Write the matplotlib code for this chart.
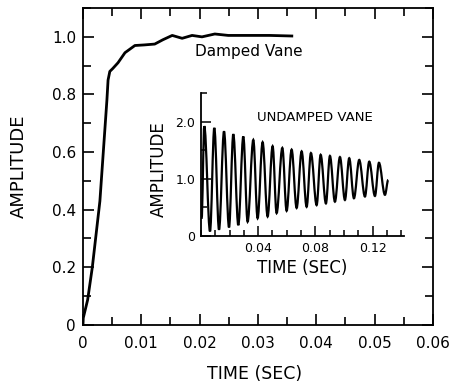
import matplotlib
matplotlib.use('Agg')
import matplotlib.pyplot as plt
from matplotlib.ticker import MultipleLocator
from matplotlib.path import Path
from matplotlib.patches import PathPatch

# damped vane response (main plot)
damped_t = [0.0, 0.00005, 0.0008, 0.0016, 0.0029, 0.0041, 0.0043, 0.0046, 0.0051,
            0.0060, 0.0072, 0.0089, 0.0105, 0.0123, 0.0137, 0.0153, 0.0170,
            0.0187, 0.0204, 0.0226, 0.0249, 0.0280, 0.0320, 0.0358]
damped_amp = [0.0, 0.024, 0.087, 0.20, 0.43, 0.78, 0.85, 0.88, 0.89,
              0.91, 0.945, 0.97, 0.972, 0.975, 0.99, 1.005, 0.995,
              1.005, 1.0, 1.01, 1.005, 1.005, 1.005, 1.003]

# undamped vane response (inset) - peaks and troughs
undamped_t = [0.0004, 0.0023, 0.0063, 0.0093, 0.0126, 0.0161, 0.0196, 0.0226,
              0.0261, 0.0296, 0.0326, 0.0366, 0.0396, 0.0431, 0.0466, 0.0501,
              0.0529, 0.0569, 0.0599, 0.0634, 0.0669, 0.0704, 0.0739, 0.0769,
              0.0809, 0.0837, 0.0874, 0.0902, 0.0937, 0.0972, 0.1007, 0.1037,
              0.1070, 0.1107, 0.1147, 0.1177, 0.1217, 0.1245, 0.1287, 0.1310]
undamped_amp = [0.30, 1.92, 0.08, 1.89, 0.11, 1.83, 0.15, 1.78,
                0.19, 1.74, 0.25, 1.68, 0.31, 1.64, 0.34, 1.57,
                0.40, 1.54, 0.44, 1.51, 0.49, 1.48, 0.51, 1.45,
                0.54, 1.42, 0.57, 1.40, 0.60, 1.38, 0.63, 1.36,
                0.66, 1.33, 0.69, 1.30, 0.70, 1.28, 0.72, 0.98]

main_xticks = [0, 0.01, 0.02, 0.03, 0.04, 0.05, 0.06]
main_xlabels = ['0', '0.01', '0.02', '0.03', '0.04', '0.05', '0.06']
main_yticks = [0, 0.2, 0.4, 0.6, 0.8, 1.0]
main_ylabels = ['0', '0.2', '0.4', '0.6', '0.8', '1.0']
inset_xticks = [0.04, 0.08, 0.12]
inset_xlabels = ['0.04', '0.08', '0.12']
inset_yticks = [0, 1.0, 2.0]
inset_ylabels = ['0', '1.0', '2.0']

plt.rcParams['font.family'] = ['DejaVu Sans']

fig = plt.figure(figsize=(4.51, 3.84), dpi=100)
ax = fig.add_axes([0.184, 0.154, 0.776, 0.825])

ax.plot(damped_t, damped_amp, color='black', lw=2.0, solid_joinstyle='round')
ax.set_xlim(0, 0.06)
ax.set_ylim(0, 1.1)
ax.set_xticks(main_xticks)
ax.set_xticklabels(main_xlabels)
ax.set_yticks(main_yticks)
ax.set_yticklabels(main_ylabels)
ax.xaxis.set_minor_locator(MultipleLocator(0.005))
ax.yaxis.set_minor_locator(MultipleLocator(0.1))
ax.tick_params(which='both', direction='in', top=True, right=True, width=1.2,
               labelsize=11)
ax.tick_params(which='major', length=8)
ax.tick_params(which='minor', length=5.5)
ax.tick_params(axis='x', pad=8)
ax.tick_params(axis='y', pad=5)
for s in ax.spines.values():
    s.set_linewidth(1.3)
ax.set_xlabel('TIME (SEC)', fontsize=12.5)
ax.set_ylabel('AMPLITUDE', fontsize=13)
ax.xaxis.set_label_coords(0.49, -0.128)
ax.yaxis.set_label_coords(-0.158, 0.5)
ax.text(0.0285, 0.95, 'Damped Vane', fontsize=11, ha='center', va='center')

# inset
ins = fig.add_axes([0.4457, 0.3854, 0.450, 0.3724])
# smooth curve through the peaks/troughs (horizontal tangent at each extreme)
verts = [(undamped_t[0], undamped_amp[0])]
codes = [Path.MOVETO]
for i in range(1, len(undamped_t)):
    t0, a0 = undamped_t[i - 1], undamped_amp[i - 1]
    t1, a1 = undamped_t[i], undamped_amp[i]
    dt = t1 - t0
    verts += [(t0 + 0.36 * dt, a0), (t1 - 0.36 * dt, a1), (t1, a1)]
    codes += [Path.CURVE4] * 3
ins.add_patch(PathPatch(Path(verts, codes), facecolor='none', edgecolor='black',
                        lw=1.6))
ins.set_xlim(0, 0.142)
ins.set_ylim(0, 2.5)
ins.spines['top'].set_visible(False)
ins.spines['right'].set_visible(False)
for s in ins.spines.values():
    s.set_linewidth(1.3)
ins.set_xticks(inset_xticks)
ins.set_xticklabels(inset_xlabels)
ins.set_yticks(inset_yticks)
ins.set_yticklabels(inset_ylabels)
ins.xaxis.set_minor_locator(MultipleLocator(0.01))
ins.yaxis.set_minor_locator(MultipleLocator(0.5))
ins.tick_params(which='both', direction='in', width=1.1, labelsize=9)
ins.tick_params(which='major', length=7)
ins.tick_params(which='minor', length=4.5)
ins.tick_params(axis='y', pad=4)
ins.tick_params(axis='x', pad=4)
ins.set_xlabel('TIME (SEC)', fontsize=12, labelpad=3)
ins.set_ylabel('AMPLITUDE', fontsize=12)
ins.yaxis.set_label_coords(-0.165, 0.47)
ins.text(0.080, 2.07, 'UNDAMPED VANE', fontsize=9.5, ha='center', va='center')

fig.savefig('out.png', dpi=100)
